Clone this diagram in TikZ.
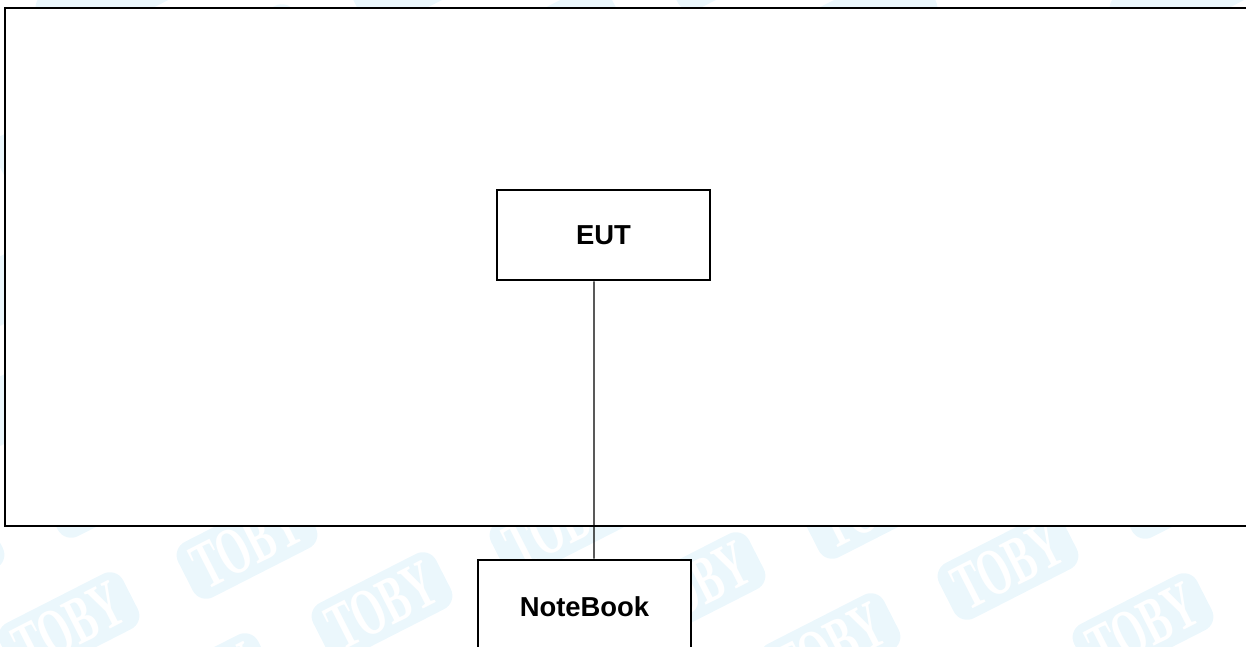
\documentclass[tikz,border=0pt]{standalone}
\usepackage{fontspec}
\setmainfont{Liberation Sans}
\newfontfamily\tagfont{Liberation Serif}
\usetikzlibrary{positioning}
\definecolor{tagblue}{RGB}{235,247,252}
\tikzset{
    box/.style={draw, line width=1.5pt, fill=white, minimum width=4.26cm, minimum height=1.8cm, font=\fontsize{15.6}{18}\selectfont\bfseries},
    tag/.style={fill=tagblue, rounded corners=0.3cm, minimum width=2.76cm, minimum height=1.24cm, inner sep=0pt, rotate=27, text=white, font=\fontsize{32}{32}\selectfont\tagfont\bfseries},
}
\begin{document}
\begin{tikzpicture}
    %% Background
    \useasboundingbox (0,0) rectangle (24.92,12.94);
    %% Watermark
    \begin{scope}
    \clip (0,0) rectangle (24.92,12.94);
    \foreach \i/\j in {0/-1,1/-1,-1/-1,0/0,-1/0,1/0,-2/0,0/1,-1/1,1/1,0/2,-1/2,1/2,0/3,-1/3}{
        \pgfmathsetmacro{\tagx}{7.64+2.70*\i+6.26*\j}
        \pgfmathsetmacro{\tagy}{0.82-1.22*\i+0.40*\j}
        \node[tag] (tag\i\j) at (\tagx,\tagy) {\scalebox{0.72}[1.2]{TOBY}};
    }
    %% only a rim of these shows round the room
    \foreach \i/\j in {-9/3,-9/4,-9/5,-8/3,-8/4,-8/5,-8/6,-8/2,-7/2,-5/1,-3/0}{
        \pgfmathsetmacro{\tagx}{7.64+2.70*\i+6.26*\j}
        \pgfmathsetmacro{\tagy}{0.82-1.22*\i+0.40*\j}
        \node[tag] (rim\i\j) at (\tagx,\tagy) {};
    }
    \end{scope}
    %% Figure
    \node[box, minimum width=25.1cm, minimum height=10.36cm] (room) at (12.65,7.6) {};
    \node[box] (eut) at (12.07,8.24) {EUT};
    \node[box, minimum height=1.88cm] (notebook) at (11.69,0.80) {NoteBook};
    %% Cable
    \draw[line width=0.7pt] ([xshift=-0.19cm]eut.south) to ([xshift=0.19cm]notebook.north);
\end{tikzpicture}
\end{document}
